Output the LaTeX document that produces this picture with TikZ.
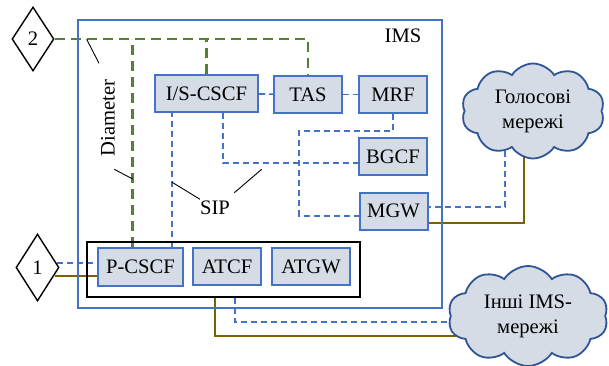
\documentclass[tikz,border=0pt]{standalone}
\usepackage{fontspec}
\setmainfont{Liberation Serif}
\usetikzlibrary{positioning,shapes.geometric,shapes.symbols,backgrounds}
\definecolor{imsblue}{HTML}{4472C4}
\definecolor{boxfill}{HTML}{D6DCE5}
\definecolor{diamgreen}{HTML}{548235}
\definecolor{mediabrown}{HTML}{7F6000}
\definecolor{cloudblue}{HTML}{2F5597}

\tikzset{
  func/.style={draw=imsblue, line width=1pt, fill=boxfill, inner sep=0pt,
    minimum width=34pt, minimum height=18.5pt},
  iface/.style={draw, diamond, line width=0.7pt, inner sep=0pt},
  net/.style={cloud, cloud puffs=10, cloud puff arc=115, cloud ignores aspect,
    draw=cloudblue, line width=0.9pt, fill=boxfill, align=center, inner sep=0pt},
  sip/.style={imsblue, line width=0.85pt, dash pattern=on 3pt off 2pt},
  diam/.style={diamgreen, line width=1.3pt, dash pattern=on 5pt off 3pt},
  media/.style={mediabrown, line width=1.1pt},
  leader/.style={black, line width=0.45pt}
}

\begin{document}
\begin{tikzpicture}[x=0.5pt, y=-0.5pt, font=\fontsize{10.3}{12.5}\selectfont]
    \useasboundingbox (0,0) rectangle (609,365);

    % IMS domain
    \node[draw=imsblue, line width=0.85pt, minimum width=182pt, minimum height=144pt] (ims) at (260,164) {};
    \node (imslbl) at (403,36) {IMS};

    % Access part
    \node[draw, line width=0.9pt, minimum width=136.5pt, minimum height=27.5pt] (acc) at (223.5,269.5) {};

    % Functions
    \node[func, minimum width=51.5pt] (iscscf) at (206.5,93.5) {I/S-CSCF};
    \foreach \name/\label/\x/\y in {tas/TAS/308/94.5, mrf/MRF/393/94.5, bgcf/BGCF/393/156.5,
                                    mgw/MGW/393.5/211, atcf/ATCF/227/266.5} {
        \node[func] (\name) at (\x,\y) {\label};
    }
    \node[func, minimum width=42.5pt, minimum height=19pt] (pcscf) at (140.5,267) {P-CSCF};
    \node[func, minimum width=39pt] (atgw) at (311,266.5) {ATGW};

    % Interfaces and other networks
    \node[iface, minimum width=21pt, minimum height=32pt] (d2) at (33,39) {2};
    \node[iface, minimum width=21.5pt, minimum height=33.5pt] (d1) at (37.5,267.5) {1};
    \node[net, minimum width=71.5pt, minimum height=47.5pt] (golos) at (533,111) {Голосові\\мережі};
    \node[net, minimum width=80pt, minimum height=50pt] (inshi) at (528,316) {Інші IMS-\\мережі};

    \begin{scope}[on background layer]
        % Diameter
        \draw[diam] (d2.east) -| (tas.north);
        \draw[diam] (iscscf.north) -- (iscscf.north |- d2.east);
        \draw[diam] ([xshift=-3.9pt]pcscf.north) coordinate (g1) -- (g1 |- d2.east);

        % SIP
        \draw[sip] ([xshift=15.6pt]pcscf.north) coordinate (s1) -- (s1 |- iscscf.south);
        \draw[sip] (iscscf) -- (tas);
        \draw[sip] (tas) -- (mrf);
        \draw[sip] ([xshift=8.4pt]iscscf.south) |- ([yshift=-3.4pt]bgcf.west);
        \draw[sip] (mrf.south) |- (299.3,130.7) |- ([yshift=-2.4pt]mgw.west);
        \draw[sip] ([xshift=-1.2pt,yshift=2.1pt]d1.east) coordinate (s2) -- (s2 -| pcscf.west);
        \draw[sip] ([xshift=-14pt]golos.center) |- ([yshift=2.15pt]mgw.east);
        \draw[sip] ([xshift=5.75pt]acc.south) |- ([yshift=-3pt]inshi.center);

        % Media
        \draw[media] ([xshift=-2.6pt,yshift=-4.1pt]d1.east) coordinate (m1) -- (m1 -| pcscf.west);
        \draw[media] ([xshift=-4.5pt]golos.center) |- ([yshift=-5.85pt]mgw.east);
        \draw[media] ([xshift=-4.25pt]acc.south) |- ([yshift=-10pt]inshi.center);
    \end{scope}

    % Labels
    \node[rotate=90] (diamlbl) at (108,118) {Diameter};
    \coordinate (dl1) at (99,63.3);
    \coordinate (dl2) at (114.3,169.3);
    \draw[leader] (dl1) -- (86.7,39.3);
    \draw[leader] (dl2) -- (132.7,179);

    \node (siplbl) at (215,208) {SIP};
    \coordinate (sl1) at (200,199.3);
    \coordinate (sl2) at (234.3,192.7);
    \draw[leader] (sl1) -- (171.7,182);
    \draw[leader] (sl2) -- (261.7,169.3);
\end{tikzpicture}
\end{document}
